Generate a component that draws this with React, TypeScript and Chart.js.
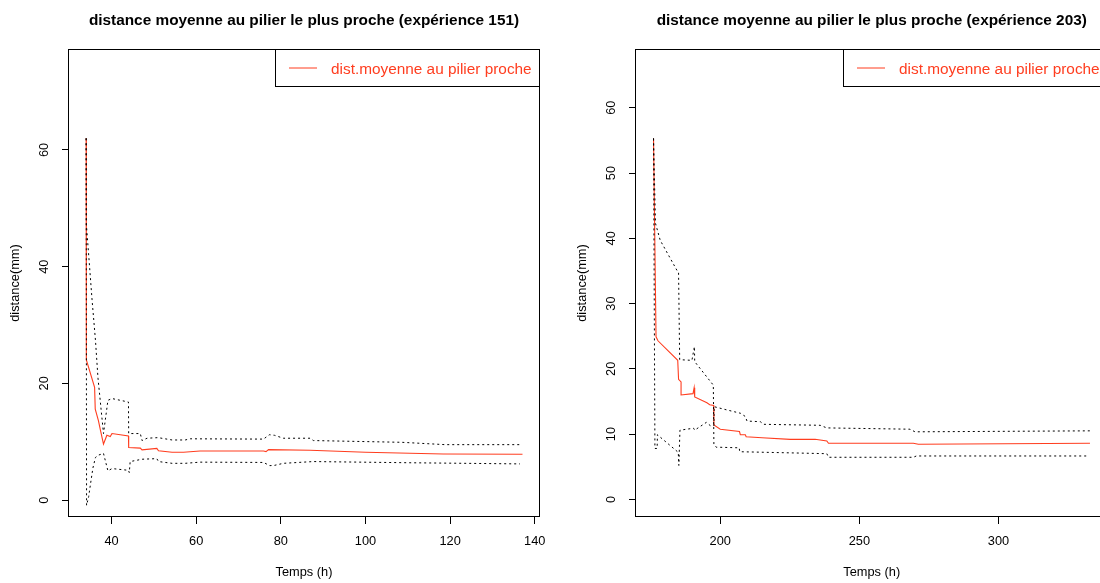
import React, { useEffect, useRef } from "react";
import { Chart, registerables } from "chart.js";

Chart.register(...registerables);

const FONT = "'Liberation Sans', Arial, Helvetica, sans-serif";
const RED = "#FF3D1F";
const AXIS_PX = 12.8;
const BIG_PX = 15.36;

const legendLabel = "dist.moyenne au pilier proche";
const xTitle = "Temps (h)";
const yTitle = "distance(mm)";

// ---------- expérience 151 ----------
const title151 = "distance moyenne au pilier le plus proche (expérience 151)";
const e151MeanTime = [34.0, 34.05, 36.0, 36.15, 36.9, 37.4, 38.1, 38.9, 39.7, 40.1, 44.0, 44.05, 46.8, 47.2, 50.7, 51.1, 54.3, 57.0, 60.9, 75.9, 76.5, 77.1, 86.9, 100.0, 118.4, 137.1];
const e151MeanDist = [62.0, 24.0, 19.3, 15.6, 13.6, 11.9, 9.6, 11.1, 10.9, 11.4, 11.0, 9.0, 8.9, 8.6, 8.85, 8.45, 8.2, 8.2, 8.4, 8.4, 8.3, 8.65, 8.55, 8.2, 7.9, 7.85];
const e151UpperTime = [34.0, 34.05, 35.4, 36.2, 36.8, 38.1, 39.15, 40.1, 44.0, 44.05, 46.8, 47.2, 48.4, 51.0, 54.3, 57.4, 58.6, 75.9, 77.3, 78.5, 80.6, 86.9, 87.7, 108.6, 118.8, 136.5];
const e151UpperDist = [62.0, 47.3, 34.3, 27.4, 20.9, 11.4, 17.1, 17.4, 16.8, 11.4, 11.4, 10.2, 10.6, 10.7, 10.3, 10.3, 10.5, 10.45, 11.2, 11.1, 10.6, 10.6, 10.2, 9.9, 9.5, 9.5];
const e151LowerTime = [34.0, 34.1, 34.6, 35.0, 35.6, 36.2, 36.9, 38.1, 39.15, 40.1, 44.0, 44.2, 44.4, 47.2, 50.7, 51.1, 54.3, 57.4, 60.9, 75.9, 77.4, 78.5, 80.6, 87.7, 110.0, 136.5];
const e151LowerDist = [62.0, -0.9, 0.6, 2.6, 5.5, 7.3, 7.7, 8.0, 5.0, 5.4, 5.1, 4.7, 6.6, 7.0, 7.1, 6.6, 6.3, 6.3, 6.5, 6.45, 5.9, 5.95, 6.3, 6.6, 6.4, 6.2];
const e151XTicks = [40, 60, 80, 100, 120, 140];
const e151YTicks = [0, 20, 40, 60];

// ---------- expérience 203 ----------
const title203 = "distance moyenne au pilier le plus proche (expérience 203)";
const e203MeanTime = [176.0, 176.9, 177.6, 184.7, 185.0, 185.9, 185.9, 190.2, 190.6, 190.8, 195.2, 196.2, 197.6, 197.7, 200.0, 206.9, 207.2, 209.0, 209.3, 215.0, 225.1, 234.1, 238.3, 238.9, 269.4, 271.2, 332.9];
const e203MeanDist = [55.3, 24.9, 24.3, 21.3, 18.4, 18.0, 16.0, 16.2, 17.1, 15.7, 14.8, 14.5, 14.4, 11.4, 10.75, 10.4, 9.9, 9.9, 9.6, 9.45, 9.2, 9.2, 8.95, 8.6, 8.6, 8.45, 8.6];
const e203UpperTime = [176.0, 176.7, 178.4, 184.4, 185.0, 185.4, 189.8, 190.7, 190.8, 197.5, 197.7, 198.5, 206.8, 207.0, 238.3, 238.9, 269.4, 270.5, 332.0];
const e203UpperDist = [55.3, 42.3, 39.7, 35.1, 34.8, 21.4, 21.3, 23.4, 21.1, 17.5, 8.4, 8.0, 7.9, 7.3, 7.0, 6.45, 6.45, 6.65, 6.65];
const e203LowerTime = [176.0, 176.5, 177.3, 177.4, 184.9, 185.1, 185.5, 190.4, 190.8, 195.0, 196.4, 197.7, 197.8, 202.4, 207.2, 209.0, 209.6, 214.4, 215.6, 235.9, 238.3, 268.2, 270.0, 332.9];
const e203LowerDist = [55.3, 7.8, 7.8, 9.9, 7.2, 5.2, 10.6, 10.9, 10.6, 11.8, 11.3, 11.3, 14.2, 13.7, 13.2, 12.7, 12.0, 11.9, 11.5, 11.35, 10.95, 10.75, 10.35, 10.5];
const e203XTicks = [200, 250, 300];
const e203YTicks = [0, 10, 20, 30, 40, 50, 60];

type PanelProps = {
  left: number;
  width: number;
  padRight: number;
  title: string;
  meanT: number[]; meanD: number[];
  upT: number[]; upD: number[];
  loT: number[]; loD: number[];
  xMin: number; xMax: number; yMin: number; yMax: number;
  xTicks: number[]; yTicks: number[];
};

const H = 583;

function Panel(p: PanelProps) {
  const ref = useRef<HTMLCanvasElement>(null);
  useEffect(() => {
    const pts = (t: number[], d: number[]) => t.map((x, i) => ({ x, y: d[i] }));
    const decor = {
      id: "decor",
      afterDraw(chart: any) {
        const { ctx, chartArea: a } = chart;
        ctx.save();
        ctx.strokeStyle = "#000";
        ctx.lineWidth = 1;
        ctx.strokeRect(a.left - 0.5, a.top + 0.5, a.right - a.left + 1, a.bottom - a.top - 1);
        // main title
        ctx.fillStyle = "#000";
        ctx.font = `bold ${BIG_PX}px ${FONT}`;
        ctx.textAlign = "center";
        ctx.textBaseline = "alphabetic";
        ctx.fillText(p.title, (a.left + a.right) / 2, 24.5);
        // legend
        const bw = 264.5;
        const bh = 37;
        const bx = Math.round(a.right - bw);
        ctx.fillStyle = "#fff";
        ctx.fillRect(bx, a.top, a.right - bx, bh);
        ctx.strokeStyle = "#000";
        ctx.lineWidth = 1;
        ctx.strokeRect(bx + 0.5, a.top + 0.5, a.right - bx, bh);
        ctx.strokeStyle = RED;
        ctx.lineWidth = 1;
        ctx.beginPath();
        ctx.moveTo(bx + 14, a.top + 19);
        ctx.lineTo(bx + 42, a.top + 19);
        ctx.stroke();
        ctx.fillStyle = RED;
        ctx.font = `${BIG_PX}px ${FONT}`;
        ctx.textAlign = "left";
        ctx.fillText(legendLabel, bx + 56, a.top + 24.5);
        ctx.restore();
      },
    };
    const tickFont = { family: FONT, size: AXIS_PX };
    const chart = new Chart(ref.current as HTMLCanvasElement, {
      type: "line",
      data: {
        datasets: [
          { data: pts(p.upT, p.upD), borderColor: "#000", borderWidth: 1, borderDash: [2, 3], pointRadius: 0, fill: false, tension: 0 },
          { data: pts(p.loT, p.loD), borderColor: "#000", borderWidth: 1, borderDash: [2, 3], pointRadius: 0, fill: false, tension: 0 },
          { data: pts(p.meanT, p.meanD), borderColor: RED, borderWidth: 1.1, pointRadius: 0, fill: false, tension: 0 },
        ],
      },
      options: {
        animation: false,
        responsive: false,
        maintainAspectRatio: false,
        events: [],
        layout: { padding: { top: 49, right: p.padRight, left: 0, bottom: 0 } },
        plugins: { legend: { display: false }, tooltip: { enabled: false }, title: { display: false } },
        scales: {
          x: {
            type: "linear",
            min: p.xMin,
            max: p.xMax,
            afterBuildTicks: (s: any) => { s.ticks = p.xTicks.map((v) => ({ value: v })); },
            afterFit: (s: any) => { s.height = H - 517; s.paddingLeft = 0; s.paddingRight = 0; },
            grid: { drawOnChartArea: false, tickLength: 7, color: "#000", lineWidth: 1 },
            border: { display: false },
            ticks: { font: tickFont, color: "#000", padding: 9.5, maxRotation: 0, minRotation: 0 },
            title: { display: true, text: xTitle, font: tickFont, color: "#000", padding: { top: 0, bottom: 3.3 } },
          },
          y: {
            type: "linear",
            min: p.yMin,
            max: p.yMax,
            afterBuildTicks: (s: any) => { s.ticks = p.yTicks.map((v) => ({ value: v })); },
            afterFit: (s: any) => { s.width = 69; s.paddingTop = 0; s.paddingBottom = 0; },
            grid: { drawOnChartArea: false, tickLength: 7, color: "#000", lineWidth: 1 },
            border: { display: false },
            ticks: { font: tickFont, color: "#000", padding: 10.5, minRotation: 90, maxRotation: 90, crossAlign: "center" },
            title: { display: true, text: yTitle, font: tickFont, color: "#000", padding: { top: 7.3, bottom: 0 } },
          },
        },
      },
      plugins: [decor],
    } as any);
    return () => chart.destroy();
  }, []);
  return (
    <canvas
      ref={ref}
      width={p.width}
      height={H}
      style={{ position: "absolute", left: p.left, top: 0, width: p.width, height: H }}
    />
  );
}

export default function App() {
  return (
    <div style={{ position: "fixed", left: 0, top: 0, width: 1100, height: H, overflow: "hidden", background: "#fff" }}>
      <Panel
        left={0} width={550} padRight={11} title={title151}
        meanT={e151MeanTime} meanD={e151MeanDist}
        upT={e151UpperTime} upD={e151UpperDist}
        loT={e151LowerTime} loD={e151LowerDist}
        xMin={29.95} xMax={141.0} yMin={-2.9} yMax={77.3}
        xTicks={e151XTicks} yTicks={e151YTicks}
      />
      <Panel
        left={567} width={551} padRight={10.5} title={title203}
        meanT={e203MeanTime} meanD={e203MeanDist}
        upT={e203UpperTime} upD={e203UpperDist}
        loT={e203LowerTime} loD={e203LowerDist}
        xMin={169.7} xMax={339.2} yMin={-2.7} yMax={69.0}
        xTicks={e203XTicks} yTicks={e203YTicks}
      />
    </div>
  );
}
